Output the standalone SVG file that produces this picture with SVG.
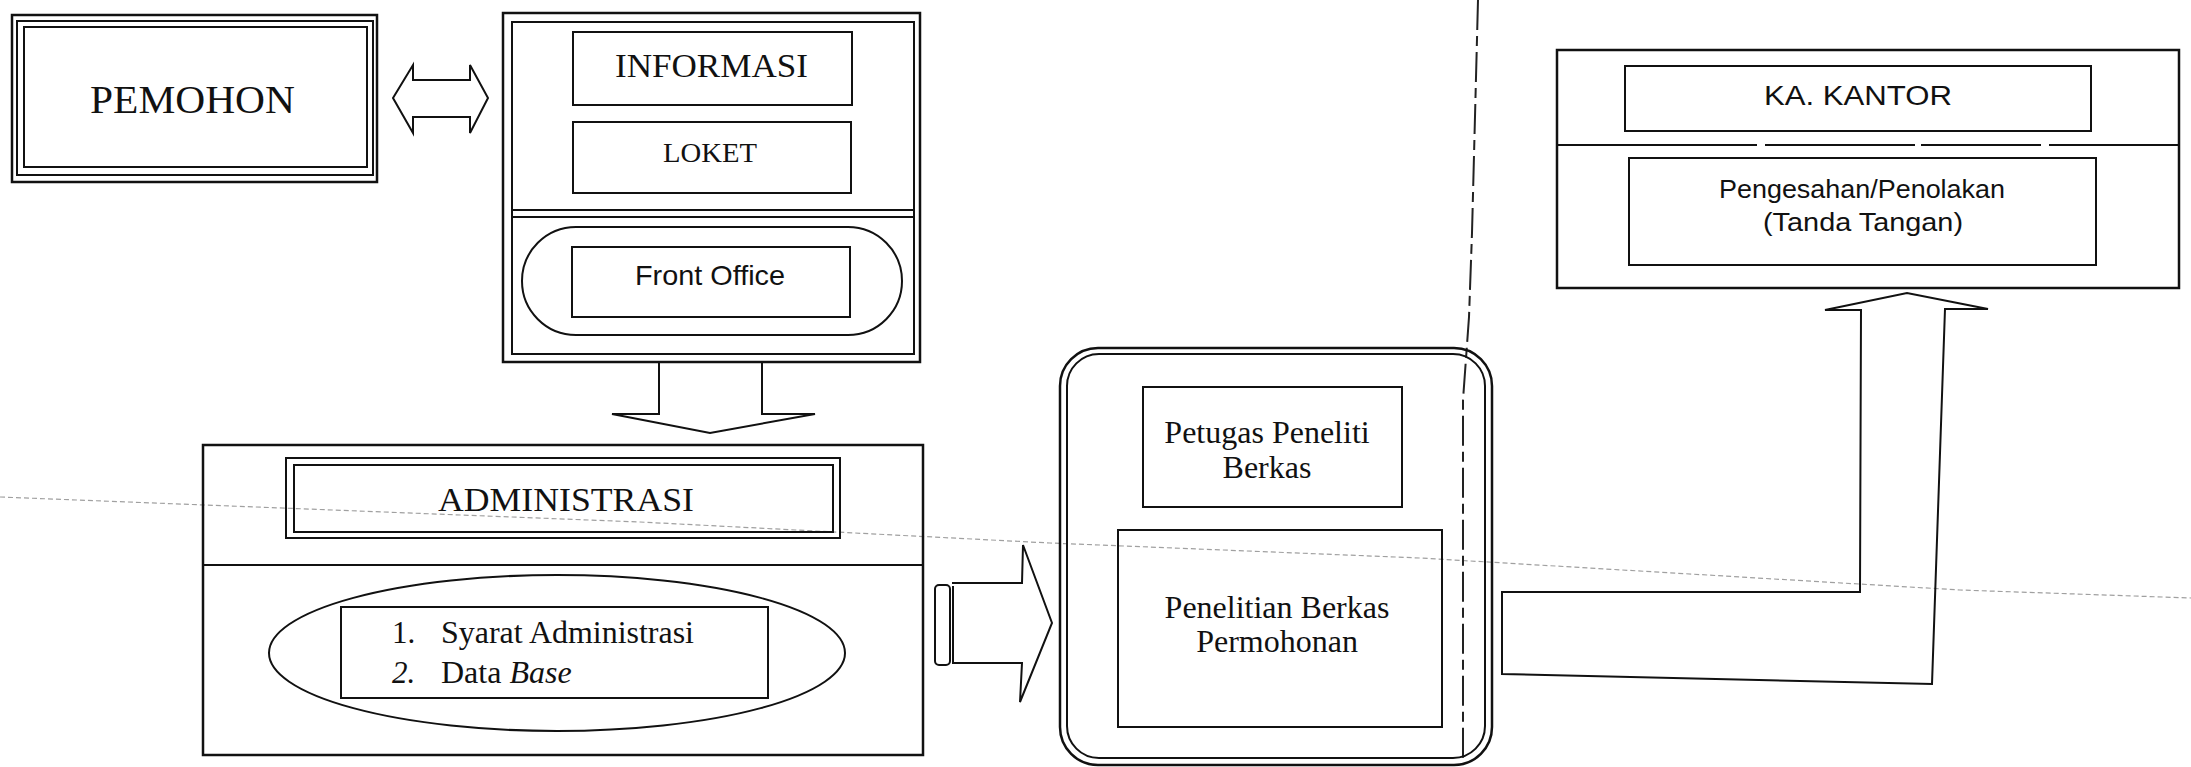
<svg xmlns="http://www.w3.org/2000/svg" width="2191" height="767" viewBox="0 0 2191 767">
<style>
.b{fill:none;stroke:#111;stroke-width:2.5}
.t{fill:none;stroke:#111;stroke-width:2}
.serif{font-family:"Liberation Serif","Times New Roman",serif;fill:#111}
.sans{font-family:"Liberation Sans",Arial,sans-serif;fill:#111}
.faint{fill:none;stroke:#a0a0a0;stroke-width:1.2;stroke-dasharray:5 3}
</style>
<rect width="2191" height="767" fill="#fff"/>
<g id="artifacts">
<path class="faint" d="M0,497 L640,522 L1050,543 L1420,558 L1960,590 L2191,598"/>
<path fill="none" stroke="#222" stroke-width="2" stroke-dasharray="30 6 10 6" d="M1478,0 L1472,233 L1469,317 L1463,400 L1463,760"/>
</g>
<g id="pemohon">
<rect class="b" x="12" y="15" width="365" height="167"/>
<rect class="t" x="17" y="21" width="356" height="154"/>
<rect class="t" x="24" y="27" width="343" height="140"/>
<text class="serif" x="90" y="113" font-size="39" textLength="205" lengthAdjust="spacingAndGlyphs">PEMOHON</text>
</g>
<g id="informasi-group">
<rect class="b" x="503" y="13" width="417" height="349"/>
<rect class="t" x="512" y="22" width="402" height="332"/>
<line class="t" x1="512" y1="210" x2="914" y2="210"/>
<line class="t" x1="512" y1="217" x2="914" y2="217"/>
<g id="informasi"><rect class="t" x="573" y="32" width="279" height="73"/>
<text class="serif" x="615" y="77" font-size="34" textLength="193" lengthAdjust="spacingAndGlyphs">INFORMASI</text></g>
<g id="loket"><rect class="t" x="573" y="122" width="278" height="71"/>
<text class="serif" x="663" y="162" font-size="28" textLength="94" lengthAdjust="spacingAndGlyphs">LOKET</text></g>
<g id="front-office"><rect class="t" x="522" y="227" width="380" height="108" rx="54"/>
<rect class="t" x="572" y="247" width="278" height="70"/>
<text class="sans" x="635" y="285" font-size="28" textLength="150" lengthAdjust="spacingAndGlyphs">Front Office</text></g>
</g>
<g id="administrasi-group">
<rect class="b" x="203" y="445" width="720" height="310" stroke-width="3.5"/>
<line class="t" x1="203" y1="565" x2="923" y2="565"/>
<g id="administrasi"><rect class="t" x="286" y="458" width="554" height="80"/>
<rect class="t" x="294" y="465" width="539" height="67"/>
<text class="serif" x="438" y="511" font-size="33" textLength="256" lengthAdjust="spacingAndGlyphs">ADMINISTRASI</text></g>
<g id="syarat"><ellipse class="t" cx="557" cy="653" rx="288" ry="78"/>
<rect class="t" x="341" y="607" width="427" height="91"/>
<text class="serif" x="392" y="643" font-size="31">1.</text>
<text class="serif" x="441" y="643" font-size="32" textLength="253" lengthAdjust="spacingAndGlyphs">Syarat Administrasi</text>
<text class="serif" x="392" y="683" font-size="31" font-style="italic">2.</text>
<text class="serif" x="441" y="683" font-size="32">Data <tspan font-style="italic">Base</tspan></text></g>
</g>
<g id="peneliti-group">
<rect class="b" x="1060" y="348" width="432" height="417" rx="38"/>
<rect class="t" x="1067" y="354" width="418" height="404" rx="32"/>
<g id="petugas"><rect class="t" x="1143" y="387" width="259" height="120"/>
<text class="serif" x="1267" y="443" font-size="32" text-anchor="middle">Petugas Peneliti</text>
<text class="serif" x="1267" y="478" font-size="32" text-anchor="middle">Berkas</text></g>
<g id="penelitian"><rect class="t" x="1118" y="530" width="324" height="197"/>
<text class="serif" x="1277" y="618" font-size="32" text-anchor="middle">Penelitian Berkas</text>
<text class="serif" x="1277" y="652" font-size="32" text-anchor="middle">Permohonan</text></g>
</g>
<g id="ka-kantor-group">
<rect class="b" x="1557" y="50" width="622" height="238"/>
<line class="t" x1="1557" y1="145" x2="2179" y2="145" stroke-dasharray="200 8 150 6 120 8"/>
<g id="ka-kantor"><rect class="t" x="1625" y="66" width="466" height="65"/>
<text class="sans" x="1764" y="105" font-size="27" textLength="188" lengthAdjust="spacingAndGlyphs">KA. KANTOR</text></g>
<g id="pengesahan"><rect class="t" x="1629" y="158" width="467" height="107"/>
<text class="sans" x="1719" y="198" font-size="25" textLength="286" lengthAdjust="spacingAndGlyphs">Pengesahan/Penolakan</text>
<text class="sans" x="1763" y="231" font-size="26" textLength="200" lengthAdjust="spacingAndGlyphs">(Tanda Tangan)</text></g>
</g>
<g id="connectors">
<path class="t" d="M393,98 L413,65 L413,80 L470,80 L470,65 L488,98 L470,133 L470,117 L413,117 L413,133 Z"/>
<path class="t" d="M659,362 L659,414 L612,414 L710,433 L815,414 L762,414 L762,362"/>
<path class="t" d="M952,583 L1022,583 L1023,545 L1052,623 L1020,702 L1022,663 L952,663"/>
<rect class="t" x="935" y="585" width="15" height="80" rx="4"/>
<line class="t" x1="953" y1="586" x2="953" y2="663"/>
<path class="t" d="M1502,592 L1860,592 L1861,310 L1825,310 L1907,293 L1988,309 L1945,309 L1932,684 L1502,674 Z"/>
</g>
</svg>
